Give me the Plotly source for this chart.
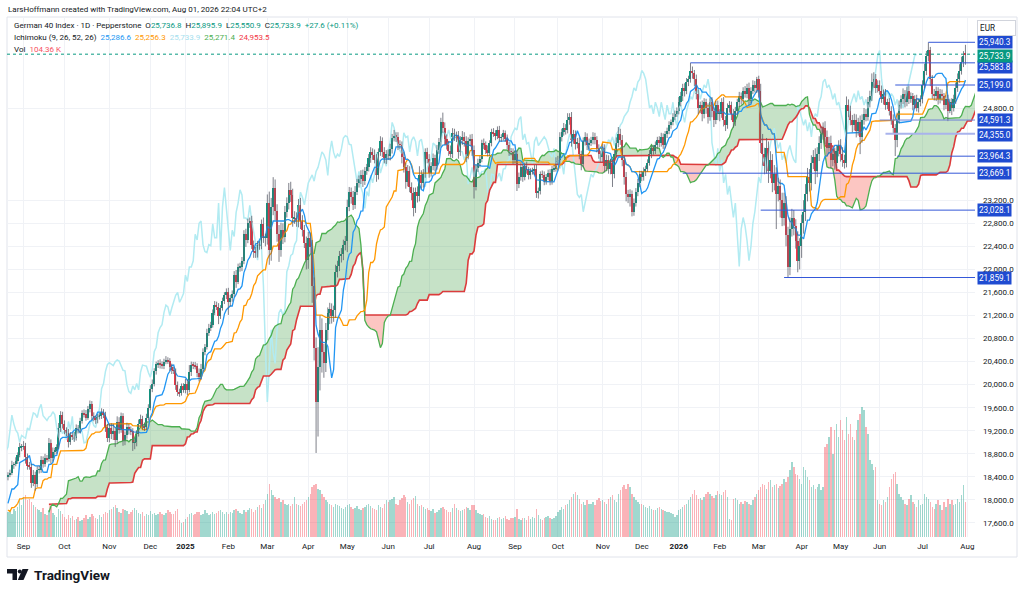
import numpy as np
import pandas as pd
import plotly.graph_objects as go

# German 40 (Pepperstone CFD), daily bars, Aug 21 2024 -> Jul 31 2026
holidays = ["2024-12-24", "2024-12-25", "2024-12-26", "2024-12-31", "2025-01-01",
            "2025-04-18", "2025-04-21", "2025-05-01", "2025-12-24", "2025-12-25",
            "2025-12-26", "2025-12-31", "2026-01-01", "2026-04-03", "2026-04-06",
            "2026-05-01"]
dates = pd.bdate_range("2024-08-21", "2026-07-31")
dates = dates[~dates.isin(pd.to_datetime(holidays))]

first_open = 18400.0
last_open = 25736.8

closes = [
    # Aug 2024
    18440, 18470, 18610, 18620, 18680, 18780, 18910, 18920,
    # Sep
    18930, 18750, 18590, 18580, 18300, 18440, 18270, 18520, 18520, 18700, 18630,
    18730, 18710, 18990, 18720, 18840, 18850, 18920, 19240, 19470, 19320,
    # Oct
    19210, 19160, 19000, 19120, 19100, 19070, 19250, 19210, 19370, 19510, 19490, 19430,
    19580, 19660, 19460, 19420, 19380, 19440, 19460, 19530, 19480, 19260, 19080,
    # Nov
    19250, 19150, 19200, 19040, 19360, 19220, 19450, 19030, 19120, 19260, 19210,
    19190, 18990, 19000, 19150, 19320, 19400, 19290, 19260, 19430, 19600,
    # Dec
    19930, 20020, 20230, 20350, 20380, 20350, 20330, 20400, 20430, 20410, 20310,
    20250, 20240, 20000, 19880, 19850, 19980, 19910,
    # Jan 2025
    20020, 19910, 20220, 20340, 20330, 20320, 20210, 20130, 20270, 20570, 20650,
    20900, 20990, 21040, 21250, 21380, 21350, 21200, 21330, 21450, 21550, 21600,
    # Feb
    21430, 21500, 21580, 21900, 21790, 22040, 22040, 22150, 22610, 22510,
    22800, 22840, 22430, 22310, 22290, 22430, 22410, 22790, 22550, 22550,
    # Mar
    23150, 22330, 23080, 23420, 23010, 22620, 22330, 22680, 22570, 22990, 23150,
    23380, 23290, 22890, 22890, 22850, 23110, 22840, 22680, 22460, 22160,
    # Apr
    22540, 22390, 21720, 20640, 19700, 20300, 20950, 20560, 20370, 20950,
    21250, 21310, 21200, 21290, 21960, 22060, 22240, 22270, 22430, 22500,
    # May
    23090, 23340, 23250, 23120, 23350, 23500, 23570, 23640, 23530, 23700, 23770,
    23930, 24040, 23990, 23900, 23630, 24030, 24230, 24030, 23930, 24000,
    # Jun
    23960, 24090, 24280, 24320, 24300, 24170, 24160, 23950, 23770, 23520, 23700,
    23430, 23320, 23060, 23350, 23270, 23640, 23500, 23650, 24030, 23910,
    # Jul
    23670, 23790, 23930, 23790, 24070, 24210, 24550, 24460, 24260, 24160, 24060, 24010,
    24370, 24290, 24310, 24040, 24240, 24300, 24220, 23970, 24220, 24260, 24070,
    # Aug
    23430, 23760, 23850, 23920, 24190, 24160, 24080, 24020, 24190, 24380, 24360,
    24310, 24420, 24280, 24290, 24360, 24270, 24150, 24050, 24040, 23900,
    # Sep
    24000, 23480, 23600, 23770, 23600, 23800, 23720, 23630, 23700, 23700, 23750,
    23330, 23360, 23650, 23640, 23530, 23600, 23670, 23530, 23740, 23750, 23880,
    # Oct
    23900, 24300, 24380, 24450, 24420, 24600, 24650, 24250, 24350, 24180, 24200, 24000,
    23830, 24220, 24300, 24150, 24200, 24240, 24300, 24250, 24100, 24000, 23950,
    # Nov
    24100, 23800, 23900, 23750, 23850, 23650, 24000, 24200, 24350, 24250,
    23900, 23600, 23300, 23250, 23300, 23000, 23150, 23350, 23500, 23650,
    # Dec
    23600, 23700, 23750, 23850, 24000, 24100, 24050, 24150, 24250, 24200,
    24300, 24150, 24350, 24400, 24500, 24550, 24650, 24700, 24750,
    # Jan 2026
    24900, 25000, 25150, 25100, 25250, 25300, 25450, 25400, 25300, 25050, 24800,
    24850, 24700, 24900, 24800, 24650, 24900, 24750, 24600, 24850, 24700,
    # Feb
    24700, 24900, 24600, 24500, 24800, 24850, 24700, 24550, 24750, 24900,
    25000, 24950, 25100, 25050, 25150, 24950, 25100, 25200, 25150, 25300,
    # Mar
    25100, 24200, 24000, 23800, 24100, 23700, 23900, 23500, 23650, 23300, 23450,
    23200, 22900, 23150, 22600, 22050, 22700, 22900, 22750, 22500, 22150, 22400,
    # Apr
    22800, 23000, 23300, 23600, 23500, 23850, 23950, 23700, 24000, 24200,
    24350, 24450, 24300, 24100, 24200, 23900, 24000, 23850, 24050, 24150,
    # May
    24000, 23900, 23850, 24850, 24750, 24600, 24500, 24600, 24400, 24550,
    24300, 24600, 24700, 24650, 24900, 25000, 25250, 25300, 25150, 25200,
    # Jun
    25100, 24950, 25050, 24850, 24900, 24750, 24600, 24450, 24250, 24600, 24850,
    24950, 25050, 24900, 25100, 24950, 25000, 24850, 24950, 24800, 24900, 24950,
    # Jul
    25200, 25450, 25700, 25800, 25300, 25050, 25000, 25100, 24950, 25050, 25000, 24850,
    24950, 24750, 24900, 24800, 24950, 25150, 25300, 25450, 25600, 25706.3, 25733.9,
]

upper_wick = [
    40, 55, 70, 35, 60, 45, 80, 50,
    90, 60, 55, 70, 45, 80, 50, 65, 75, 60, 55, 70, 50, 85, 60, 70, 55, 45, 95, 70, 60,
    60, 50, 70, 55, 45, 80, 60, 50, 55, 45, 60, 70, 50, 65, 55, 60, 45, 50, 55, 60, 45, 50, 60,
    70, 80, 120, 60, 90, 75, 65, 55, 70, 80, 60, 65, 55, 70, 60, 75, 80, 60, 55, 65, 60,
    60, 70, 55, 50, 45, 60, 55, 50, 65, 45, 50, 55, 60, 40, 55, 50, 40, 45,
    80, 70, 120, 60, 55, 65, 50, 70, 90, 60, 55, 70, 65, 50, 55, 70, 60, 65, 50, 60, 55, 70,
    80, 60, 55, 70, 90, 60, 75, 65, 70, 95, 80, 60, 90, 70, 80, 65, 60, 75, 110, 70,
    150, 200, 160, 180, 140, 120, 150, 130, 120, 110, 100, 120, 140, 110, 120, 100, 110, 130, 100, 90, 110,
    110, 100, 120, 140, 180, 350, 250, 200, 150, 120, 90, 110, 100, 80, 120, 90, 80, 100, 85, 80,
    120, 90, 80, 110, 95, 70, 60, 80, 90, 75, 60, 70, 80, 60, 90, 100, 70, 80, 60, 90, 70,
    80, 90, 70, 100, 60, 80, 70, 60, 90, 80, 110, 90, 80, 100, 70, 90, 150, 80, 90, 70, 80,
    90, 70, 80, 60, 90, 70, 80, 170, 90, 80, 70, 90, 80, 70, 80, 90, 70, 100, 80, 90, 70, 80, 90,
    80, 60, 70, 50, 60, 80, 60, 70, 50, 60, 70, 55, 60, 70, 55, 60, 50, 70, 60, 55, 60,
    70, 60, 80, 70, 60, 50, 70, 60, 55, 65, 60, 70, 60, 50, 65, 60, 55, 60, 70, 55, 60, 65,
    70, 80, 60, 90, 70, 110, 60, 80, 70, 60, 80, 90, 60, 70, 80, 60, 70, 60, 80, 70, 60, 70, 60,
    80, 70, 90, 80, 70, 60, 80, 90, 120, 90, 80, 70, 90, 80, 90, 70, 80, 60, 70, 60,
    60, 70, 50, 60, 70, 50, 60, 70, 50, 60, 70, 60, 50, 60, 70, 50, 60, 55, 60,
    90, 80, 70, 80, 70, 60, 134, 70, 60, 80, 70, 60, 80, 70, 60, 80, 70, 90, 60, 70, 80,
    80, 70, 90, 60, 80, 70, 60, 80, 70, 60, 80, 70, 60, 80, 70, 90, 60, 80, 70, 40,
    60, 120, 150, 110, 180, 120, 150, 100, 160, 120, 140, 110, 130, 180, 120, 140, 200, 150, 130, 120, 160, 140,
    150, 200, 180, 160, 140, 130, 120, 150, 120, 110, 130, 100, 120, 110, 100, 120, 90, 110, 100, 90,
    110, 120, 90, 150, 100, 90, 80, 100, 90, 80, 120, 90, 100, 80, 90, 100, 150, 120, 90, 80,
    80, 90, 70, 80, 60, 70, 80, 90, 70, 120, 80, 70, 90, 60, 70, 80, 70, 60, 70, 80, 60, 70,
    80, 120, 90, 140.3, 60, 70, 80, 70, 60, 80, 70, 60, 70, 80, 60, 70, 80, 90, 100, 110, 90, 80, 159.1,
]

lower_wick = [
    60, 45, 40, 70, 35, 55, 40, 65,
    50, 120, 65, 55, 90, 60, 110, 45, 60, 50, 70, 55, 60, 45, 90, 55, 65, 50, 40, 60, 80,
    70, 55, 90, 45, 60, 65, 40, 55, 50, 45, 60, 55, 40, 60, 75, 55, 60, 50, 45, 55, 60, 80, 75,
    80, 95, 110, 120, 60, 70, 55, 90, 80, 60, 75, 65, 140, 110, 70, 50, 60, 70, 65, 45, 55,
    45, 60, 50, 55, 60, 70, 55, 60, 45, 50, 70, 65, 55, 90, 75, 60, 40, 50,
    60, 90, 45, 70, 60, 55, 80, 75, 50, 45, 60, 40, 55, 60, 50, 45, 55, 150, 60, 45, 50, 65,
    220, 70, 60, 55, 110, 45, 80, 70, 60, 120, 55, 80, 75, 110, 90, 85, 70, 60, 90, 150,
    120, 250, 180, 140, 160, 140, 200, 110, 130, 100, 90, 110, 120, 150, 100, 110, 120, 140, 110, 90, 160,
    150, 120, 300, 220, 885, 600, 400, 350, 250, 150, 180, 200, 140, 110, 130, 100, 90, 120, 110, 100,
    200, 80, 110, 90, 70, 60, 80, 90, 100, 65, 60, 70, 80, 90, 60, 110, 70, 60, 80, 90, 100,
    60, 70, 80, 60, 90, 100, 70, 110, 90, 120, 80, 90, 120, 140, 80, 110, 90, 100, 80, 60, 70,
    80, 60, 70, 90, 60, 70, 80, 90, 100, 80, 90, 70, 80, 60, 80, 120, 70, 80, 90, 110, 60, 70, 100,
    200, 60, 70, 80, 60, 70, 80, 60, 50, 55, 60, 70, 50, 60, 65, 55, 60, 70, 80, 60, 70,
    60, 120, 70, 60, 80, 55, 60, 70, 65, 55, 60, 90, 100, 60, 55, 70, 60, 55, 70, 60, 50, 55,
    60, 70, 80, 60, 80, 60, 90, 120, 70, 100, 80, 90, 110, 60, 70, 80, 70, 60, 70, 80, 70, 80, 90,
    90, 120, 80, 90, 100, 220, 70, 60, 80, 90, 110, 130, 120, 100, 160, 80, 70, 60, 80, 70,
    70, 60, 80, 60, 50, 70, 60, 50, 60, 80, 70, 60, 50, 70, 55, 60, 50, 60, 55,
    60, 70, 80, 100, 60, 70, 60, 90, 120, 100, 110, 90, 130, 80, 100, 120, 70, 110, 130, 80, 110,
    130, 70, 120, 100, 60, 80, 110, 90, 60, 70, 80, 90, 60, 70, 80, 100, 70, 60, 80, 90,
    120, 180, 200, 150, 140, 200, 120, 160, 130, 600, 120, 300, 150, 140, 200, 191, 150, 130, 160, 140, 200, 150,
    200, 180, 160, 120, 150, 130, 110, 220, 100, 120, 110, 100, 130, 140, 100, 150, 110, 120, 100, 90,
    130, 120, 100, 80, 110, 100, 120, 90, 110, 80, 300, 100, 90, 80, 70, 90, 80, 100, 90, 80,
    70, 60, 90, 80, 70, 80, 90, 100, 283, 130, 70, 60, 80, 90, 70, 80, 60, 90, 70, 60, 80, 70,
    70, 60, 80, 90, 120, 90, 70, 80, 90, 70, 80, 90, 70, 177.4, 40, 122.7, 60, 80, 70, 60, 70, 90, 183.0,
]

volume_k = [
    75, 80, 70, 85, 78, 90, 110, 95,
    120, 126, 110, 115, 105, 95, 90, 85, 80, 75, 88, 70, 65, 80, 90, 72, 66, 60, 85, 78, 70,
    60, 55, 65, 58, 62, 50, 55, 60, 48, 52, 58, 66, 55, 60, 70, 62, 58, 54, 65, 60, 68, 75, 72,
    80, 85, 90, 96, 88, 75, 72, 85, 80, 78, 70, 74, 82, 88, 80, 72, 68, 75, 62, 70, 66,
    78, 70, 72, 65, 68, 74, 70, 66, 72, 80, 75, 68, 70, 78, 85, 50, 42, 45,
    55, 60, 68, 72, 66, 70, 74, 76, 65, 70, 80, 72, 66, 70, 74, 68, 72, 78, 80, 76, 70, 74,
    70, 75, 72, 80, 85, 78, 72, 70, 82, 76, 80, 88, 84, 75, 80, 90, 95, 88, 100, 110,
    130, 160, 140, 125, 120, 115, 118, 105, 110, 100, 95, 98, 92, 100, 120, 100, 95, 92, 98, 105, 110,
    120, 130, 150, 155, 160, 145, 140, 130, 120, 110, 105, 98, 95, 90, 100, 96, 92, 88, 85, 90,
    95, 100, 90, 85, 88, 92, 84, 80, 86, 90, 95, 100, 92, 88, 85, 80, 95, 90, 88, 100, 110,
    105, 110, 115, 120, 100, 95, 110, 118, 125, 120, 105, 98, 110, 116, 124, 100, 92, 96, 90, 85, 88,
    80, 78, 85, 72, 76, 82, 88, 90, 84, 80, 76, 74, 86, 100, 88, 82, 78, 80, 84, 90, 86, 80, 95,
    95, 80, 72, 70, 66, 68, 60, 58, 62, 55, 52, 50, 56, 60, 54, 58, 62, 55, 50, 58, 56,
    60, 85, 54, 52, 58, 56, 50, 62, 55, 60, 58, 85, 66, 54, 50, 58, 60, 62, 56, 54, 58, 62,
    75, 80, 90, 85, 95, 100, 110, 120, 130, 135, 125, 115, 100, 105, 95, 110, 100, 98, 104, 96, 110, 118, 108,
    110, 105, 100, 115, 120, 125, 110, 105, 130, 140, 150, 155, 145, 160, 150, 130, 120, 110, 105, 100,
    100, 95, 90, 88, 92, 85, 80, 82, 86, 90, 84, 80, 78, 76, 75, 72, 70, 60, 65,
    80, 85, 90, 95, 100, 110, 120, 130, 140, 125, 115, 118, 112, 120, 128, 135, 130, 122, 118, 126, 138,
    130, 125, 135, 140, 120, 55, 50, 115, 118, 112, 100, 105, 98, 108, 104, 100, 96, 110, 120, 128,
    140, 150, 160, 155, 145, 165, 170, 150, 155, 160, 148, 152, 158, 175, 165, 180, 200, 225, 210, 190, 185, 175,
    160, 210, 200, 180, 170, 150, 155, 145, 150, 160, 140, 150, 270, 280, 300, 330, 250, 320, 340, 300,
    350, 320, 290, 360, 310, 340, 300, 290, 320, 350, 370, 390, 380, 330, 310, 230, 220, 200, 210, 110,
    100, 95, 110, 105, 120, 150, 175, 190, 195, 160, 130, 120, 110, 100, 95, 115, 125, 105, 100, 90, 110, 95,
    100, 130, 120, 115, 105, 90, 85, 100, 110, 95, 80, 105, 90, 115, 100, 110, 95, 100, 115, 105, 125, 155, 104.36,
]

# highs / lows of the 55 sessions before the first visible bar (feed the Ichimoku windows)
pre_high = [18700, 18750, 18700,
            18550, 18500, 18600, 18400, 18150,
            18200, 18200, 18300, 18300, 18250,
            18350, 18300, 18200, 18250, 18300,
            18350, 18300, 18400, 18450, 18550,
            18500, 18450, 18550, 18650, 18800,
            18800, 18700, 18600, 18550, 18400,
            18450, 18550, 18450, 18400, 18450,
            18500, 18450, 18550, 18450, 18050,
            17700, 17650, 17800, 17700, 17800,
            17800, 17950, 18150, 18250, 18350,
            18450, 18450]
pre_low = [18450, 18550, 18500,
           18350, 18300, 18350, 18200, 17950,
           17950, 18050, 18100, 18150, 18100,
           18200, 18100, 18050, 18150, 18150,
           18150, 18100, 18200, 18300, 18350,
           18350, 18300, 18350, 18450, 18550,
           18550, 18450, 18400, 18300, 18150,
           18250, 18350, 18250, 18200, 18300,
           18350, 18300, 18400, 17950, 17600,
           17050, 17350, 17500, 17500, 17400,
           17650, 17700, 17850, 18000, 17700,
           18300, 18350]

# horizontal rays drawn on the chart
level_prices = [25940.3, 25583.8, 25199.0, 24591.3, 24355.0, 23964.3, 23669.1, 23028.1, 21859.1]
level_start = ["2026-07-06", "2026-01-12", "2026-06-11", "2026-06-01", "2026-06-04",
               "2026-06-12", "2026-01-06", "2026-03-03", "2026-03-19"]
level_colors = ["#3558d8", "#3558d8", "#3558d8", "#6f82d6", "#a9b3ec",
                "#3558d8", "#3558d8", "#3558d8", "#3558d8"]
price_ticks = [17600, 18000, 18400, 18800, 19200, 19600, 20000, 20400, 20800,
               21200, 21600, 22000, 22400, 22800, 23200, 24800]

n = len(closes)
assert len(dates) == n == len(upper_wick) == len(lower_wick) == len(volume_k), \
    (len(dates), n, len(upper_wick), len(lower_wick), len(volume_k))

UP, DOWN = "#089981", "#f23645"
idx = np.arange(n)
c = np.array(closes, float)
o = np.concatenate([[first_open], c[:-1]])
o[-1] = last_open
h = np.maximum(o, c) + np.array(upper_wick, float)
l = np.minimum(o, c) - np.array(lower_wick, float)
up = c >= o

# Ichimoku (9, 26, 52, 26)
npre = len(pre_high)
hi = pd.Series(np.concatenate([pre_high, h]))
lo = pd.Series(np.concatenate([pre_low, l]))


def mid(k):
    return ((hi.rolling(k).max() + lo.rolling(k).min()) / 2).to_numpy()


tenkan, kijun, span_b = mid(9), mid(26), mid(52)
span_a = (tenkan + kijun) / 2
gx = np.arange(len(hi)) - npre
lead_x = gx + 25
ok = ~np.isnan(span_b) & (lead_x >= -2)
lx, la, lb = lead_x[ok], span_a[ok], span_b[ok]


def cloud_polys(x, a, b):
    polys = []
    sign = a[0] >= b[0]
    cx, ca, cb = [x[0]], [a[0]], [b[0]]
    for k in range(1, len(x)):
        s = a[k] >= b[k]
        if s != sign:
            d0, d1 = a[k - 1] - b[k - 1], a[k] - b[k]
            t = d0 / (d0 - d1)
            xc = x[k - 1] + t * (x[k] - x[k - 1])
            yc = a[k - 1] + t * (a[k] - a[k - 1])
            cx.append(xc); ca.append(yc); cb.append(yc)
            polys.append((sign, cx, ca, cb))
            cx, ca, cb = [xc], [yc], [yc]
            sign = s
        cx.append(x[k]); ca.append(a[k]); cb.append(b[k])
    polys.append((sign, cx, ca, cb))
    return polys


fig = go.Figure()

# volume on the base axis so price is drawn above it
fig.add_trace(go.Bar(x=idx, y=volume_k, width=0.72, yaxis="y",
                     marker=dict(color=np.where(up, "rgba(8,153,129,0.38)", "rgba(242,54,69,0.38)"),
                                 line=dict(width=0)),
                     hoverinfo="skip"))

for sgn, cx, ca, cb in cloud_polys(lx, la, lb):
    fig.add_trace(go.Scatter(x=cx + cx[::-1], y=ca + cb[::-1], yaxis="y2", mode="lines",
                             fill="toself", line=dict(width=0),
                             fillcolor="rgba(67,160,71,0.3)" if sgn else "rgba(244,67,54,0.3)",
                             hoverinfo="skip"))

fig.add_trace(go.Scatter(x=idx - 25, y=c, yaxis="y2", mode="lines",
                         line=dict(color="#b2ebf2", width=1.5), hoverinfo="skip"))
fig.add_trace(go.Scatter(x=lx, y=lb, yaxis="y2", mode="lines",
                         line=dict(color="#dc3c3c", width=1.6), hoverinfo="skip"))
fig.add_trace(go.Scatter(x=lx, y=la, yaxis="y2", mode="lines",
                         line=dict(color="#4caf50", width=1.3), hoverinfo="skip"))
fig.add_trace(go.Scatter(x=idx, y=kijun[npre:], yaxis="y2", mode="lines",
                         line=dict(color="#ff9800", width=1.3), hoverinfo="skip"))
fig.add_trace(go.Scatter(x=idx, y=tenkan[npre:], yaxis="y2", mode="lines",
                         line=dict(color="#2196f3", width=1.3), hoverinfo="skip"))

# candles: wicks then bodies
wx, wy = [], []
for i in range(n):
    wx += [i, i, None]
    wy += [l[i], h[i], None]
fig.add_trace(go.Scatter(x=wx, y=wy, yaxis="y2", mode="lines",
                         line=dict(color="#5d606b", width=0.8), hoverinfo="skip"))
body = np.maximum(np.abs(c - o), 12)
fig.add_trace(go.Bar(x=idx, y=body, base=np.minimum(o, c), width=0.8, yaxis="y2",
                     marker=dict(color=np.where(up, UP, DOWN), line=dict(width=0)),
                     hoverinfo="skip"))

# x ticks at the first bar of each month
month_start = [i for i in range(1, n) if dates[i].month != dates[i - 1].month] + [n]
tick_text = []
for i in month_start:
    d = dates[i] if i < n else dates[-1] + pd.offsets.MonthBegin(1)
    tick_text.append(f"<b>{d.year}</b>" if d.month == 1 else d.strftime("%b"))

FONT = "Roboto"
TXT = "#131722"
X_RANGE = [-0.5, 495.9]

shapes = []
for price, start, col in zip(level_prices, level_start, level_colors):
    x0 = int(dates.get_loc(pd.Timestamp(start)))
    shapes.append(dict(type="line", xref="x", yref="y2", x0=x0, x1=X_RANGE[1], y0=price, y1=price,
                       line=dict(color=col, width=2 if col == "#a9b3ec" else 1)))
shapes.append(dict(type="line", xref="x", yref="y2", x0=X_RANGE[0], x1=X_RANGE[1],
                   y0=closes[-1], y1=closes[-1], line=dict(color=UP, width=1, dash="dot")))


def px(x):
    return (x - 7) / 968


def py(y):
    return (537 - y) / 520


# chart frame
shapes.append(dict(type="rect", xref="paper", yref="paper", x0=px(7), x1=px(1017), y0=py(557), y1=py(17),
                   line=dict(color="#e0e3eb", width=1), layer="below"))
# TradingView logo
shapes += [
    dict(type="rect", xref="paper", yref="paper", x0=px(7), x1=px(17), y0=py(573.5), y1=py(569),
         fillcolor=TXT, line=dict(width=0)),
    dict(type="rect", xref="paper", yref="paper", x0=px(12.5), x1=px(17), y0=py(580), y1=py(569),
         fillcolor=TXT, line=dict(width=0)),
    dict(type="circle", xref="paper", yref="paper", x0=px(17.8), x1=px(21.8), y0=py(573.5), y1=py(569.5),
         fillcolor=TXT, line=dict(width=0)),
    dict(type="path", xref="paper", yref="paper",
         path=f"M {px(22.5)},{py(569)} L {px(28.5)},{py(569)} L {px(23.5)},{py(580)} L {px(17.8)},{py(580)} Z",
         fillcolor=TXT, line=dict(width=0)),
]

annotations = []
# the price scale nudges crowded labels apart (pixels)
tag_shift = {25733.9: -1.5, 25583.8: -4, 24355.0: -1}


def price_tag(price, bg):
    annotations.append(dict(xref="paper", yref="y2", x=px(976.5), y=price, xanchor="left", yanchor="middle",
                            yshift=tag_shift.get(price, 0),
                            text=f"{price:,.1f}", showarrow=False, bgcolor=bg, borderpad=1,
                            font=dict(family=FONT, size=8.2, color="white")))


for price in level_prices:
    price_tag(price, "#1f4bd1")
price_tag(closes[-1], UP)

annotations.append(dict(xref="paper", yref="paper", x=px(977), y=py(28), xanchor="left", yanchor="middle",
                        text="EUR", showarrow=False, bgcolor="white", bordercolor="#d1d4dc", borderwidth=1,
                        borderpad=2, width=33, height=10, align="left",
                        font=dict(family=FONT, size=8.2, color=TXT)))

g = "#089981"
legend_lines = [
    ("LarsHoffmann created with TradingView.com, Aug 01, 2026 22:04 UTC+2", 9, 6),
    ("German 40 Index · 1D · Pepperstone  "
     f"O<span style='color:{g}'>25,736.8</span>  H<span style='color:{g}'>25,895.9</span>  "
     f"L<span style='color:{g}'>25,550.9</span>  C<span style='color:{g}'>25,733.9</span>  "
     f"<span style='color:{g}'>+27.6 (+0.11%)</span>", 25.7, 12),
    ("Ichimoku (9, 26, 52, 26)  <span style='color:#2196f3'>25,286.6</span>  "
     "<span style='color:#ff9800'>25,256.3</span>  <span style='color:#a6e0ee'>25,733.9</span>  "
     "<span style='color:#4caf50'>25,271.4</span>  <span style='color:#f23645'>24,953.5</span>", 37.7, 12),
    ("Vol  <span style='color:#f7525f'>104.36 K</span>", 49.3, 12),
]
for text, y, x in legend_lines:
    annotations.append(dict(xref="paper", yref="paper", x=px(x), y=py(y), xanchor="left", yanchor="middle",
                            text=text, showarrow=False, font=dict(family=FONT, size=8.0, color=TXT)))

annotations.append(dict(xref="paper", yref="paper", x=px(31.5), y=py(574.5), xanchor="left", yanchor="middle",
                        text="<b>TradingView</b>", showarrow=False,
                        font=dict(family=FONT, size=13.5, color=TXT)))

fig.update_layout(
    width=1024, height=594,
    margin=dict(l=7, r=49, t=17, b=57),
    paper_bgcolor="white", plot_bgcolor="white",
    showlegend=False, barmode="overlay", bargap=0,
    xaxis=dict(range=X_RANGE, tickmode="array", tickvals=month_start, ticktext=tick_text,
               showgrid=True, gridcolor="#f0f2f6", gridwidth=1, zeroline=False, showline=False,
               ticks="", ticklabelstandoff=3, tickfont=dict(family=FONT, size=8, color=TXT)),
    yaxis=dict(range=[0, 1560], visible=False, fixedrange=True),
    yaxis2=dict(range=[17357, 26379], overlaying="y", side="right", tickmode="array",
                tickvals=price_ticks, ticktext=[f"{v:,.1f}" for v in price_ticks],
                showgrid=True, gridcolor="#f0f2f6", gridwidth=1, zeroline=False, showline=False,
                ticks="", ticklabelstandoff=7, tickfont=dict(family=FONT, size=8, color=TXT)),
    shapes=shapes, annotations=annotations,
)

# the page body keeps its default 8px margin otherwise, which pushes the figure off the window
fig.write_html("out.html", config={"displayModeBar": False},
               post_script="document.body.style.margin = '0';")
